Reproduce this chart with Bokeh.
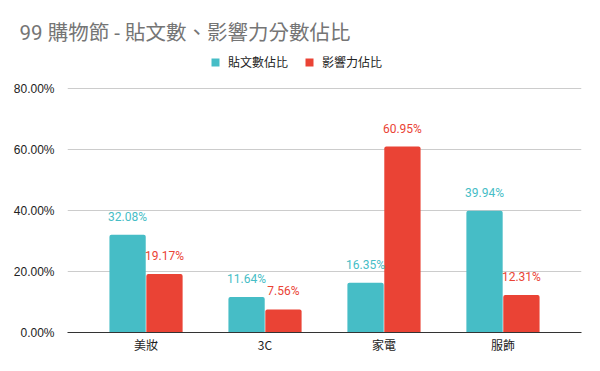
from bokeh.plotting import figure
from bokeh.models import (ColumnDataSource, FactorRange, Range1d, FixedTicker,
                          NumeralTickFormatter, Legend, LegendItem, Title)
from bokeh.transform import dodge
from bokeh.core.properties import value
from bokeh.embed import file_html
from bokeh.resources import INLINE

title_text = "99 購物節 - 貼文數、影響力分數佔比"
categories = ["美妝", "3C", "家電", "服飾"]
series_names = ["貼文數佔比", "影響力佔比"]
post_share = [0.3208, 0.1164, 0.1635, 0.3994]
influence_share = [0.1917, 0.0756, 0.6095, 0.1231]
y_ticks = [0, 0.2, 0.4, 0.6, 0.8]

BLUE = "#46BDC6"
RED = "#EA4335"

src = ColumnDataSource(dict(
    cat=categories,
    post=post_share,
    infl=influence_share,
    post_lbl=[f"{v*100:.2f}%" for v in post_share],
    infl_lbl=[f"{v*100:.2f}%" for v in influence_share],
))

FRAME_H = 282
x_range = FactorRange(factors=categories, range_padding=0.16, range_padding_units="absolute")
p = figure(x_range=x_range, y_range=Range1d(0, 0.8 * FRAME_H / 244),
           frame_width=514, frame_height=FRAME_H,
           min_border_left=67, min_border_right=19, min_border_top=50, min_border_bottom=39,
           output_backend="svg", toolbar_location=None,
           background_fill_color="white", border_fill_color="white", outline_line_color=None)

p.title = Title(text=title_text, text_font="Roboto, Noto Sans CJK TC", text_font_size="20.5px",
                text_color="#757575", text_font_style="normal", align="left",
                offset=-48, standoff=12)

bw = 0.305
r1 = p.vbar(x=dodge("cat", -0.155, range=x_range), top="post", width=bw, source=src,
            fill_color=BLUE, line_color=None, border_radius=[2, 2, 0, 0])
r2 = p.vbar(x=dodge("cat", 0.155, range=x_range), top="infl", width=bw, source=src,
            fill_color=RED, line_color=None, border_radius=[2, 2, 0, 0])

p.text(x=dodge("cat", -0.155, range=x_range), y="post", text="post_lbl", source=src,
       text_color=BLUE, text_font=value("Roboto"), text_font_size="12px",
       text_align="center", text_baseline="middle", y_offset=-18)
p.text(x=dodge("cat", 0.155, range=x_range), y="infl", text="infl_lbl", source=src,
       text_color=RED, text_font=value("Roboto"), text_font_size="12px",
       text_align="center", text_baseline="middle", y_offset=-18)

# axes
p.yaxis.ticker = FixedTicker(ticks=y_ticks)
p.yaxis.formatter = NumeralTickFormatter(format="0.00%")
p.yaxis.axis_line_color = None
p.yaxis.major_tick_line_color = None
p.yaxis.minor_tick_line_color = None
p.yaxis.major_label_text_font = "Liberation Sans"
p.yaxis.major_label_text_font_size = "12px"
p.yaxis.major_label_text_color = "#222222"
p.yaxis.major_label_standoff = 7

p.xaxis.axis_line_color = "#333333"
p.xaxis.major_tick_line_color = None
p.xaxis.minor_tick_line_color = None
p.xaxis.major_label_text_font = "Noto Sans CJK TC"
p.xaxis.major_label_text_font_size = "12px"
p.xaxis.major_label_text_color = "#222222"
p.xaxis.major_label_standoff = -3

p.xgrid.grid_line_color = None
p.ygrid.grid_line_color = "#CCCCCC"
p.ygrid.ticker = FixedTicker(ticks=y_ticks)

legend = Legend(items=[LegendItem(label=series_names[0], renderers=[r1]),
                       LegendItem(label=series_names[1], renderers=[r2])],
                orientation="horizontal", location=(143, 262),
                label_text_font="Noto Sans CJK TC", label_text_font_size="12px",
                label_text_color="#222222", glyph_width=10, glyph_height=10,
                label_height=12, label_standoff=8, spacing=16, padding=0, margin=0,
                border_line_color=None, background_fill_alpha=0)
p.add_layout(legend)

open("out.html", "w").write(file_html(p, INLINE))
